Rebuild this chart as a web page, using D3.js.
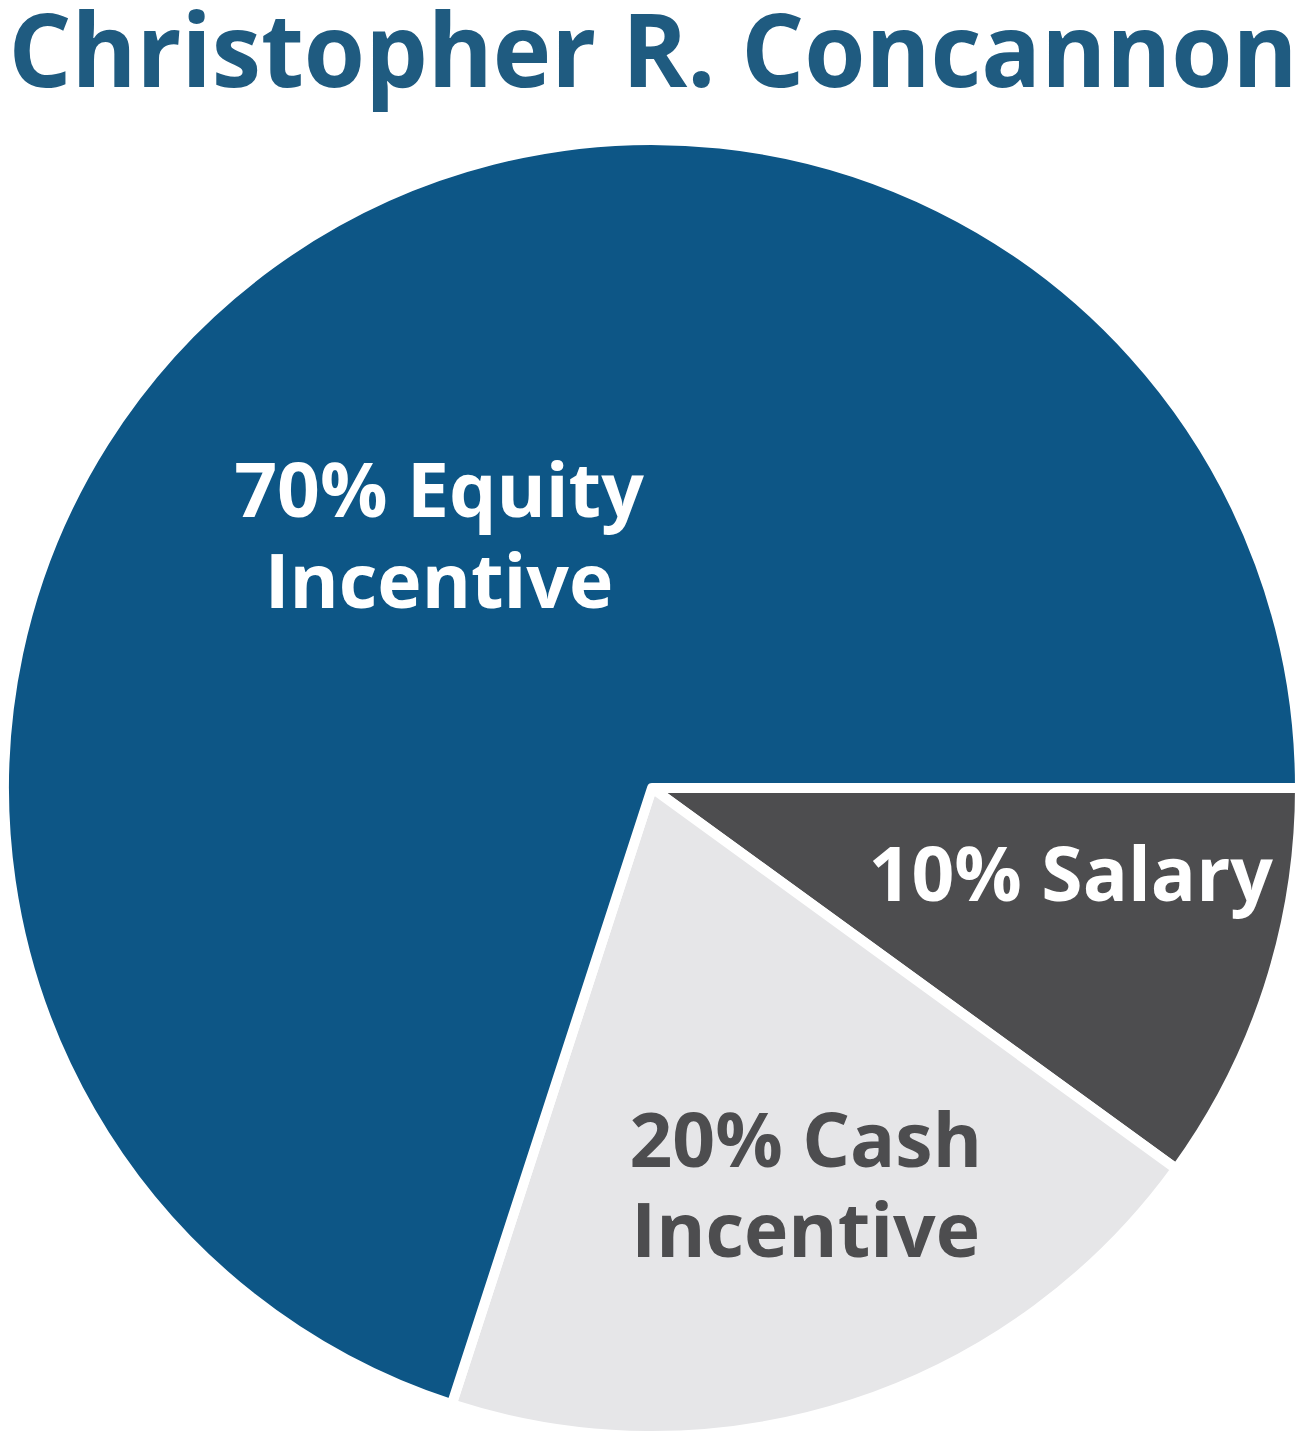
<!DOCTYPE html>
<html>
<head>
<meta charset="utf-8">
<script src="https://cdn.jsdelivr.net/npm/d3@7"></script>
<style>
html,body{margin:0;padding:0;background:#fff;}
svg{display:block;}
</style>
</head>
<body>
<svg id="chart" width="1307" height="1443"></svg>
<script>
const title = "Christopher R. Concannon";
const categories = ["Salary", "Cash Incentive", "Equity Incentive"];
const values = [10, 20, 70];
const labelLines = [["10% Salary"], ["20% Cash", "Incentive"], ["70% Equity", "Incentive"]];
const colors = ["#4d4d4f", "#e6e6e8", "#0d5686"];
const labelColors = ["#ffffff", "#4d4d4f", "#ffffff"];

const W = 1307, H = 1443;
const cx = 652, cy = 788, R = 648;
const svg = d3.select("#chart");

svg.append("text")
  .attr("x", 653).attr("y", 87)
  .attr("text-anchor", "middle")
  .attr("font-family", "'Open Sans', sans-serif")
  .attr("font-weight", 700)
  .attr("font-size", 103)
  .attr("fill", "#1f5b80")
  .attr("textLength", 1289)
  .attr("lengthAdjust", "spacingAndGlyphs")
  .text(title);

const pie = d3.pie().sort(null)
  .startAngle(Math.PI / 2).endAngle(Math.PI / 2 + 2 * Math.PI);
const arcs = pie(values);
const arc = d3.arc().innerRadius(0).outerRadius(R);

const g = svg.append("g").attr("transform", `translate(${cx},${cy})`);
g.selectAll("path.slice").data(arcs).join("path")
  .attr("class", "slice")
  .attr("d", arc)
  .attr("fill", (d, i) => colors[i])
  .attr("stroke", "#fff")
  .attr("stroke-width", 10)
  .attr("stroke-linejoin", "round");

// label layout: polar placement (radius, angle offset from slice mid) and line baselines relative to anchor
const labelLayout = [
  { r: 427, da: -6.7, dy: [29] },
  { r: 425, da: -3.2, dy: [-17.5, 72.5] },
  { r: 330, da: -4.2, dy: [-18.5, 72.5] }
];

arcs.forEach((d, i) => {
  const mid = (d.startAngle + d.endAngle) / 2 + labelLayout[i].da * Math.PI / 180;
  const r = labelLayout[i].r;
  const x = r * Math.sin(mid), y = -r * Math.cos(mid);
  const t = g.append("text")
    .attr("text-anchor", "middle")
    .attr("font-family", "'Open Sans', sans-serif")
    .attr("font-weight", 700)
    .attr("font-size", 75)
    .attr("fill", labelColors[i]);
  labelLines[i].forEach((line, j) => {
    t.append("tspan").attr("x", x).attr("y", y + labelLayout[i].dy[j]).text(line);
  });
});
</script>
</body>
</html>
